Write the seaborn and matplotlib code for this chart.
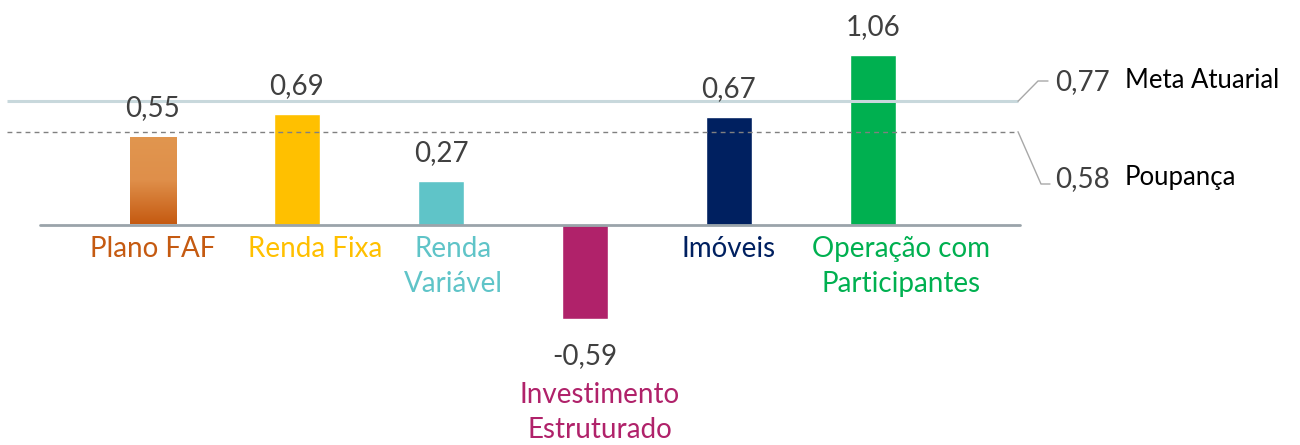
import numpy as np
import pandas as pd
import matplotlib
matplotlib.use("Agg")
import matplotlib.pyplot as plt
import seaborn as sns
from matplotlib.colors import LinearSegmentedColormap

categories = ["Plano FAF", "Renda Fixa", "Renda Variável", "Investimento Estruturado",
              "Imóveis", "Operação com Participantes"]
cat_labels = ["Plano FAF", "Renda Fixa", "Renda\nVariável", "Investimento\nEstruturado",
              "Imóveis", "Operação com\nParticipantes"]
values = [0.55, 0.69, 0.27, -0.59, 0.67, 1.06]
value_labels = ["0,55", "0,69", "0,27", "-0,59", "0,67", "1,06"]
colors = ["#c55a11", "#ffc000", "#5fc4c8", "#b0226a", "#002060", "#00b050"]
meta_value, meta_label, meta_name = 0.77, "0,77", "Meta Atuarial"
poup_value, poup_label, poup_name = 0.58, "0,58", "Poupança"

sns.set_theme(style="white")
plt.rcParams["font.family"] = ["Lato", "DejaVu Sans"]

df = pd.DataFrame({"cat": categories, "val": values})
fig = plt.figure(figsize=(13, 4.45), dpi=100)
ax = fig.add_axes([0, 0, 1, 1])
sns.barplot(data=df, x="cat", y="val", hue="cat", palette=colors, width=0.32,
            legend=False, ax=ax, saturation=1)

# pixel helpers for layout
PX0, PXS = 153, 144.0
BASE, K = 224.5, 160.0
def xd(px): return (px - PX0) / PXS
def yd(py): return (BASE - py) / K
def dy(px): return px / K
def dx(px): return px / PXS
ax.set_xlim(xd(0), xd(1300))
ax.set_ylim(yd(445), yd(0))
ax.axis("off")

# horizontal shift of category labels (pixels)
label_shift = [0, 18, 12, 15, 0, 28]

# gradient on first bar
p = ax.patches[0]
p.set_facecolor("none")
x0, w, h = p.get_x(), p.get_width(), p.get_height()
grad = np.linspace(0, 1, 256).reshape(-1, 1)
cmap = LinearSegmentedColormap.from_list("g", ["#e1964f", "#df8f4a", "#c55a11"])
im = ax.imshow(grad, cmap=cmap, extent=[x0, x0 + w, 0, h], aspect="auto", zorder=2,
               origin="upper")
im.set_clip_path(p)

# reference lines
ax.plot([xd(7), xd(1018)], [meta_value, meta_value],
        color="#c8d8dc", lw=2.2, solid_capstyle="butt", zorder=1)
ax.plot([xd(1018), xd(1038), xd(1048)], [meta_value, yd(81), yd(81)], color="#a8a8a8", lw=1, zorder=1)
ax.plot([xd(7), xd(1018)], [poup_value, poup_value], color="#808080", lw=1,
        dashes=(3.5, 3), zorder=1)
ax.plot([xd(1018), xd(1041), xd(1050)], [poup_value, yd(184), yd(184)], color="#a8a8a8", lw=1, zorder=1)
ax.text(xd(1055), yd(90), meta_label, fontsize=20, color="#404040", va="baseline", ha="left")
ax.text(xd(1125), yd(88), meta_name, fontsize=18.5, color="#000000", va="baseline", ha="left")
ax.text(xd(1055), yd(187), poup_label, fontsize=20, color="#404040", va="baseline", ha="left")
ax.text(xd(1125), yd(185), poup_name, fontsize=18.5, color="#000000", va="baseline", ha="left")

# baseline
ax.plot([xd(40), xd(1020)], [0, 0], color="#9aa4aa", lw=2, zorder=3)

# value and category labels
for i, (v, vl, cl, c, s) in enumerate(zip(values, value_labels, cat_labels, colors, label_shift)):
    if v >= 0:
        ax.text(i, v + dy(20), vl, ha="center", va="baseline", fontsize=20, color="#404040")
        ax.text(i + dx(s), yd(236), cl, ha="center", va="top", fontsize=20, color=c, linespacing=1.42)
    else:
        ax.text(i, v - dy(45), vl, ha="center", va="baseline", fontsize=20, color="#404040")
        ax.text(i + dx(s), v - dy(63), cl, ha="center", va="top", fontsize=20, color=c, linespacing=1.42)

fig.savefig("out.png", dpi=100)
